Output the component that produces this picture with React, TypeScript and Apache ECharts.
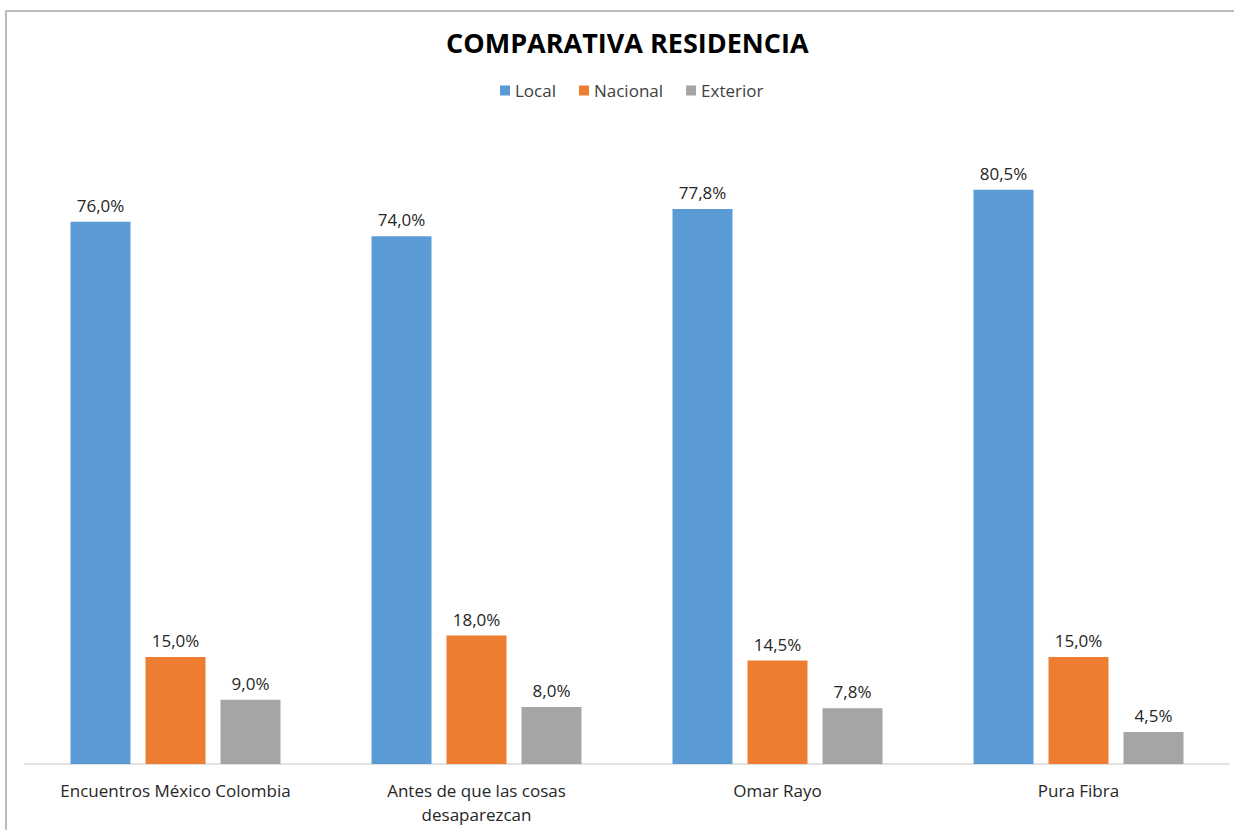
import React, { useEffect, useRef } from "react";
import * as echarts from "echarts";

const categories = [
  "Encuentros México Colombia",
  "Antes de que las cosas\ndesaparezcan",
  "Omar Rayo",
  "Pura Fibra",
];
const seriesNames = ["Local", "Nacional", "Exterior"];
const localValues = [76.0, 74.0, 77.8, 80.5];
const nacionalValues = [15.0, 18.0, 14.5, 15.0];
const exteriorValues = [9.0, 8.0, 7.8, 4.5];
const colors = ["#5B9BD5", "#ED7D31", "#A5A5A5"];
const FONT = "'Open Sans', 'Noto Sans', sans-serif";

export default function App() {
  const ref = useRef<HTMLDivElement>(null);
  useEffect(() => {
    if (!ref.current) return;
    const chart = echarts.init(ref.current, undefined, { renderer: "svg" });
    const values = [localValues, nacionalValues, exteriorValues];
    chart.setOption({
      animation: false,
      backgroundColor: "#ffffff",
      title: {
        text: "COMPARATIVA RESIDENCIA",
        left: 441,
        top: 24,
        textStyle: { fontFamily: FONT, fontSize: 27, fontWeight: "bold", color: "#000000" },
      },
      legend: {
        top: 77,
        left: 495,
        icon: "rect",
        itemWidth: 10,
        itemHeight: 10,
        itemGap: 23,
        data: seriesNames,
        textStyle: { fontFamily: FONT, fontSize: 17, color: "#404040" },
      },
      graphic: [
        {
          type: "rect",
          shape: { x: 6, y: 11, width: 1240, height: 840 },
          style: { fill: "none", stroke: "#a6a6a6", lineWidth: 1.5 },
          silent: true,
        },
      ],
      grid: { left: 25, right: 5, top: 122, bottom: 66 },
      xAxis: {
        type: "category",
        data: categories,
        axisLine: { lineStyle: { color: "#d9d9d9", width: 1.5 } },
        axisTick: { show: false },
        axisLabel: {
          fontFamily: FONT,
          fontSize: 17,
          color: "#262626",
          margin: 14,
          lineHeight: 24,
          interval: 0,
        },
      },
      yAxis: {
        type: "value",
        min: 0,
        max: 90,
        show: false,
        splitLine: { show: false },
      },
      series: seriesNames.map((name, i) => ({
        name,
        type: "bar",
        data: values[i],
        barWidth: 60,
        barGap: "25%",
        itemStyle: { color: colors[i] },
        label: {
          show: true,
          position: "top",
          distance: 8,
          fontFamily: FONT,
          fontSize: 17,
          color: "#262626",
          formatter: (p: any) => p.value.toFixed(1).replace(".", ",") + "%",
        },
      })),
    });
    return () => chart.dispose();
  }, []);
  return (
    <div
      ref={ref}
      style={{ position: "fixed", left: 0, top: 0, width: 1234, height: 830 }}
    />
  );
}
